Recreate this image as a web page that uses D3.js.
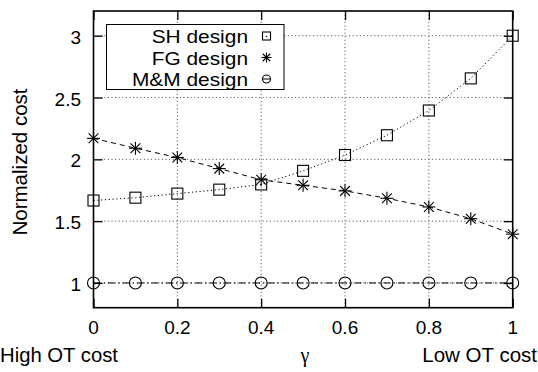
<!DOCTYPE html>
<html><head><meta charset="utf-8">
<script src="https://cdn.jsdelivr.net/npm/d3@7"></script>
<style>body{margin:0;background:#fff}svg{display:block}text{font-family:"Liberation Sans",Arial,sans-serif;fill:#000}</style>
</head><body><svg id="c" width="538" height="372"></svg>
<script>
const gammas = [0,0.1,0.2,0.3,0.4,0.5,0.6,0.7,0.8,0.9,1.0];
const shDesign = [1.667,1.69,1.723,1.755,1.797,1.907,2.035,2.195,2.395,2.655,3.0];
const fgDesign = [2.17,2.09,2.015,1.925,1.835,1.79,1.745,1.685,1.615,1.52,1.395];
const mmDesign = [1,1,1,1,1,1,1,1,1,1,1];
const seriesNames = ["SH design","FG design","M&M design"];
const xTicks = [0,0.2,0.4,0.6,0.8,1];
const yTicks = [1,1.5,2,2.5,3];
const xTickLabels = ["0","0.2","0.4","0.6","0.8","1"];
const yTickLabels = ["1","1.5","2","2.5","3"];

const svg = d3.select("#c");
const L=93.5, R=512.7, T=11, B=307.7;
const x = d3.scaleLinear().domain([0,1]).range([L,R]);
const y = d3.scaleLinear().domain([0.8,3.2]).range([B,T]);
const TL = 9;

// grid
const grid = svg.append("g").attr("stroke","#444").attr("stroke-width",1).attr("stroke-dasharray","1,2.6");
xTicks.slice(1,-1).forEach(v=>grid.append("line").attr("x1",x(v)).attr("x2",x(v)).attr("y1",T).attr("y2",B));
yTicks.forEach(v=>grid.append("line").attr("x1",L).attr("x2",R).attr("y1",y(v)).attr("y2",y(v)));

// axes (inward ticks on all sides)
const ax = svg.append("g");
ax.append("g").attr("transform",`translate(0,${B})`).call(d3.axisBottom(x).tickValues(xTicks).tickSize(-TL).tickFormat(""));
ax.append("g").attr("transform",`translate(0,${T})`).call(d3.axisTop(x).tickValues(xTicks).tickSize(-TL).tickFormat(""));
ax.append("g").attr("transform",`translate(${L},0)`).call(d3.axisLeft(y).tickValues(yTicks).tickSize(-TL).tickFormat(""));
ax.append("g").attr("transform",`translate(${R},0)`).call(d3.axisRight(y).tickValues(yTicks).tickSize(-TL).tickFormat(""));
ax.selectAll(".domain").remove();
ax.selectAll("line").attr("stroke","#000").attr("stroke-width",1.3);
svg.append("rect").attr("x",L).attr("y",T).attr("width",R-L).attr("height",B-T).attr("fill","none").attr("stroke","#000").attr("stroke-width",1.6);

// tick labels
xTicks.forEach((v,i)=>svg.append("text").attr("x",x(v)).attr("y",334).attr("text-anchor","middle").attr("font-size",19).text(xTickLabels[i]));
yTicks.forEach((v,i)=>svg.append("text").attr("x",81).attr("y",y(v)+8).attr("text-anchor","end").attr("font-size",19).text(yTickLabels[i]));

// axis labels
svg.append("text").attr("transform","translate(27,162) rotate(-90)").attr("text-anchor","middle").attr("font-size",20.5).text("Normalized cost");
svg.append("text").attr("x",305).attr("y",362).attr("text-anchor","middle").attr("font-size",20).style("font-family","'Liberation Serif','Times New Roman',serif").text("γ");
svg.append("text").attr("x",0).attr("y",362).attr("font-size",20.3).text("High OT cost");
svg.append("text").attr("x",537).attr("y",362).attr("text-anchor","end").attr("font-size",20.5).text("Low OT cost");

// lines
const line = d3.line().x((d,i)=>x(gammas[i])).y(d=>y(d));
const styles = [
  {data:shDesign, dash:"1.2,2.6"},
  {data:fgDesign, dash:"5,4"},
  {data:mmDesign, dash:"7,3,1.5,3"}
];
styles.forEach(s=>svg.append("path").attr("d",line(s.data)).attr("fill","none").attr("stroke","#000").attr("stroke-width",1).attr("stroke-dasharray",s.dash));

// markers
function square(g,cx,cy,s){g.append("rect").attr("x",cx-s/2).attr("y",cy-s/2).attr("width",s).attr("height",s).attr("fill","none").attr("stroke","#000").attr("stroke-width",1.1);}
function star(g,cx,cy,s){const r=s/2,d=r*0.75;
  [[-r,0,r,0],[0,-r,0,r],[-d,-d,d,d],[-d,d,d,-d]].forEach(a=>g.append("line").attr("x1",cx+a[0]).attr("y1",cy+a[1]).attr("x2",cx+a[2]).attr("y2",cy+a[3]).attr("stroke","#000").attr("stroke-width",1.1));}
function circ(g,cx,cy,s){g.append("circle").attr("cx",cx).attr("cy",cy).attr("r",s/2).attr("fill","none").attr("stroke","#000").attr("stroke-width",1.1);}
const mk = svg.append("g");
shDesign.forEach((v,i)=>square(mk,x(gammas[i]),y(v),11));
fgDesign.forEach((v,i)=>star(mk,x(gammas[i]),y(v),13));
mmDesign.forEach((v,i)=>circ(mk,x(gammas[i]),y(v),12));

// legend
const lg = svg.append("g");
lg.append("rect").attr("x",106.5).attr("y",24.5).attr("width",177.5).attr("height",65).attr("fill","#fff").attr("stroke","#000").attr("stroke-width",1);
const fns=[square,star,circ];
seriesNames.forEach((n,i)=>{
  const cy = 36+i*21.5;
  lg.append("text").attr("transform",`translate(248,${cy+7}) scale(1.13,1)`).attr("text-anchor","end").attr("font-size",18.5).text(n);
  fns[i](lg,266.5,cy,i===1?10:8);
});
lg.append("line").attr("x1",263).attr("x2",270).attr("y1",79).attr("y2",79).attr("stroke","#000").attr("stroke-width",1);
lg.append("circle").attr("cx",266.5).attr("cy",36.5).attr("r",0.7);
</script></body></html>
